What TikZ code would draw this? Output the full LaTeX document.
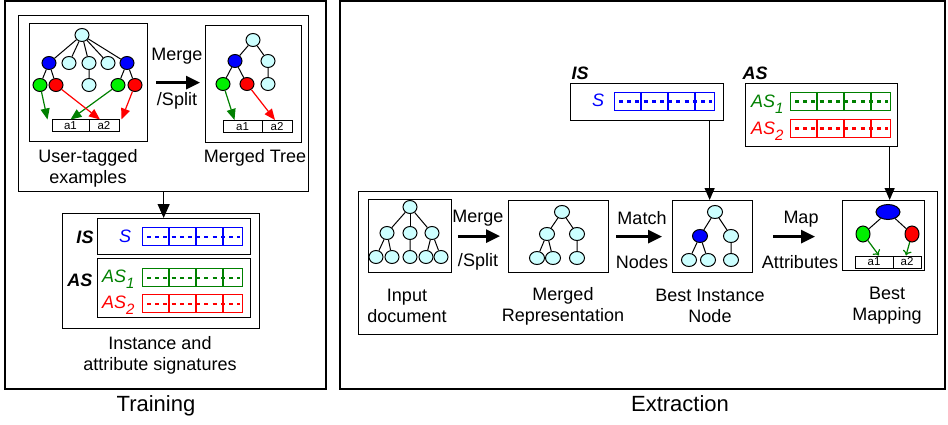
\documentclass[tikz,border=0pt]{standalone}
\usepackage{fontspec}
\setmainfont{Liberation Sans}
\usetikzlibrary{arrows,arrows.meta,shapes.geometric}

\definecolor{lcyan}{RGB}{204,255,255}
\definecolor{dgreen}{RGB}{0,128,0}
\definecolor{lgreen}{RGB}{0,240,0}

\newcommand{\lowidx}[1]{\raisebox{-6pt}{\fontsize{15}{15}\selectfont #1}}
% signature bar: name, x, y, colour
\newcommand{\sigbar}[4]{%
  \node[draw=#4, line width=1.2pt, minimum width=100pt, minimum height=18pt,
        inner sep=0pt, anchor=north west] (#1) at (#2,#3) {};
  \foreach \d in {27,54,81}
    \draw[#4, line width=1.2pt] ([xshift=\d pt]#1.north west) -- ([xshift=\d pt]#1.south west);
  \draw[#4, line width=2.2pt, dash pattern=on 4pt off 4.2pt] ([xshift=5pt]#1.west) -- ([xshift=-3pt]#1.east);
}

\begin{document}
\begin{tikzpicture}[x=1pt, y=-1pt, >={Triangle[length=14pt,width=13pt]},
  tn/.style={ellipse, draw, line width=1pt, fill=lcyan, minimum width=14pt, minimum height=13pt, inner sep=0pt},
  bn/.style={tn, fill=blue}, gn/.style={tn, fill=lgreen}, rn/.style={tn, fill=red},
  etn/.style={tn, minimum width=15pt},
  tbox/.style={draw, line width=1.3pt, inner sep=0pt, anchor=north west},
  cell/.style={draw, line width=1pt, minimum height=12pt, inner sep=0pt, font=\fontsize{11.5}{11.5}\selectfont},
  lbl/.style={align=center, font=\fontsize{18}{21}\selectfont},
  hd/.style={font=\fontsize{18}{21}\selectfont\bfseries\itshape},
  sig/.style={font=\fontsize{18}{21}\selectfont\itshape, anchor=base west, inner sep=0pt},
  tedge/.style={line width=1pt},
  tarr/.style={line width=1.2pt, -{Triangle[length=11pt,width=9pt]}},
  marr/.style={line width=1.2pt, dgreen, -{To[length=5pt,width=9pt]}},
  bigarr/.style={line width=2.8pt, ->},
  downarr/.style={line width=1.2pt, -{Triangle[length=14pt,width=12pt]}},
  smallarr/.style={line width=1.2pt, -{Triangle[length=12pt,width=10pt]}}]
\useasboundingbox (0,0) rectangle (948,425);

% panels
\draw[line width=1.3pt] (5,1) rectangle (326,389);
\draw[line width=1.3pt] (340,1) rectangle (945,389);
\node[anchor=base, font=\fontsize{22}{24}\selectfont] (trn) at (156,411) {Training};
\node[anchor=base, font=\fontsize{22}{24}\selectfont] (ext) at (680,411) {Extraction};

%%% training
\node[tbox, minimum width=290pt, minimum height=176pt] (trbox) at (18,15) {};
\node[tbox, minimum width=118pt, minimum height=118pt] (tb1) at (29,23) {};
\node[tbox, minimum width=96pt, minimum height=117pt] (tb2) at (205,25) {};

% user-tagged tree
\node[tn] (t1r) at (82,35) {};
\node[bn] (t1b1) at (49,63) {};
\node[tn] (t1c1) at (69,63) {};
\node[tn] (t1c2) at (89,63) {};
\node[tn] (t1c3) at (108,63) {};
\node[bn] (t1b2) at (127,63) {};
\node[gn] (t1g1) at (40,85) {};
\node[rn] (t1r1) at (56,85) {};
\node[tn] (t1c4) at (89,85) {};
\node[gn] (t1g2) at (118,85) {};
\node[rn] (t1r2) at (135,85) {};
\foreach \c in {t1b1,t1c1,t1c2,t1c3,t1b2}
  \draw[tedge] (t1r) -- (\c);
\draw[tedge] (t1b1) -- (t1g1) (t1b1) -- (t1r1) (t1c2) -- (t1c4) (t1b2) -- (t1g2) (t1b2) -- (t1r2);
\node[cell, minimum width=37pt] (t1a1) at (70.5,126) {a1};
\node[cell, minimum width=30pt] (t1a2) at (104,126) {a2};
\draw[tarr, dgreen] (t1g1) -- ([xshift=-4pt]t1a1.north west);
\draw[tarr, dgreen] (t1g2) -- (t1a1.north);
\draw[tarr, red] (t1r1) -- ([xshift=-4pt]t1a2.north);
\draw[tarr, red] (t1r2) -- ([xshift=2pt]t1a2.north east);

% merged tree
\node[tn] (t2r) at (253,40) {};
\node[bn] (t2b) at (235,61) {};
\node[tn] (t2c1) at (268,61) {};
\node[gn] (t2g) at (223,84) {};
\node[rn] (t2d) at (247,84) {};
\node[tn] (t2c2) at (268,84) {};
\draw[tedge] (t2r) -- (t2b) (t2r) -- (t2c1) (t2b) -- (t2g) (t2b) -- (t2d) (t2c1) -- (t2c2);
\node[cell, minimum width=39pt] (t2a1) at (242.5,126.5) {a1};
\node[cell, minimum width=30pt] (t2a2) at (277,126.5) {a2};
\draw[tarr, dgreen] (t2g) -- ([xshift=-8pt]t2a1.north);
\draw[tarr, red] (t2d) -- ([xshift=-2pt]t2a2.north);

\draw[bigarr, shorten <=8pt, shorten >=5pt] (tb1.east) -- (tb1.east -| tb2.west);
\node[lbl] (mg1) at (177,56) {Merge};
\node[lbl] (sp1) at (177,101) {/Split};
\node[lbl] (utag) at (88,168) {User-tagged\\examples};
\node[lbl] (mtree) at (255,158) {Merged Tree};

% signatures
\node[tbox, minimum width=197pt, minimum height=115pt] (sigbox) at (62,213) {};
\node[tbox, minimum width=153pt, minimum height=36pt] (isbox) at (97,218) {};
\node[tbox, minimum width=153pt, minimum height=59pt] (asbox) at (97,258) {};
\draw[downarr] (trbox.south) -- (trbox.south |- isbox.north);
\node[hd] (islbl) at (85,237) {IS};
\node[hd] (aslbl) at (80,280) {AS};
\node[sig, blue] (s1) at (119,242) {S};
\node[sig, dgreen] (as1) at (102,282) {AS\lowidx{1}};
\node[sig, red] (as2) at (102,308) {AS\lowidx{2}};
\sigbar{isbar}{142}{227}{blue}
\sigbar{asbarA}{142}{268}{dgreen}
\sigbar{asbarB}{142}{294}{red}
\node[lbl] (insig) at (160,355) {Instance and\\attribute signatures};

%%% extraction
\node[hd] (isR) at (580,73) {IS};
\node[tbox, minimum width=153pt, minimum height=37pt] (isRbox) at (570,83) {};
\node[sig, blue] (sR) at (592,107) {S};
\sigbar{isRbar}{614}{92}{blue}
\node[hd] (asR) at (755,73) {AS};
\node[tbox, minimum width=152pt, minimum height=63pt] (asRbox) at (745,83) {};
\node[sig, dgreen] (asR1) at (751,108) {AS\lowidx{1}};
\node[sig, red] (asR2) at (751,135) {AS\lowidx{2}};
\sigbar{asRbarA}{790}{92}{dgreen}
\sigbar{asRbarB}{790}{119}{red}

\node[tbox, minimum width=579pt, minimum height=143pt] (exbox) at (358,191) {};
\node[tbox, minimum width=83pt, minimum height=73pt] (inbox) at (368,199) {};
\node[tbox, minimum width=100pt, minimum height=72pt] (mrbox) at (508,200) {};
\node[tbox, minimum width=80pt, minimum height=72pt] (bibox) at (672,200) {};
\node[tbox, minimum width=82pt, minimum height=70pt] (bmbox) at (842,200) {};

% input document
\node[tn] (inr) at (410,207) {};
\node[tn] (inA) at (387,233) {};
\node[tn] (inB) at (410,233) {};
\node[tn] (inC) at (432,233) {};
\node[tn] (inD) at (376,257) {};
\node[tn] (inE) at (392,257) {};
\node[tn] (inF) at (410,257) {};
\node[tn] (inG) at (426,257) {};
\node[tn] (inH) at (441,257) {};
\foreach \c in {inA,inB,inC}
  \draw[tedge] (inr) -- (\c);
\draw[tedge] (inA) -- (inD) (inA) -- (inE) (inB) -- (inF) (inC) -- (inG) (inC) -- (inH);

% merged representation
\node[etn] (mrr) at (562,212) {};
\node[etn] (mrA) at (547,234) {};
\node[etn] (mrB) at (577,234) {};
\node[etn] (mrC) at (537,258) {};
\node[etn] (mrD) at (553,258) {};
\node[etn] (mrE) at (577,258) {};
\draw[tedge] (mrr) -- (mrA) (mrr) -- (mrB) (mrA) -- (mrC) (mrA) -- (mrD) (mrB) -- (mrE);

% best instance node
\node[etn] (bir) at (715,212) {};
\node[etn, fill=blue] (biA) at (700,236) {};
\node[etn] (biB) at (731,236) {};
\node[etn] (biC) at (689,260) {};
\node[etn] (biD) at (708,260) {};
\node[etn] (biE) at (731,260) {};
\draw[tedge] (bir) -- (biA) (bir) -- (biB) (biA) -- (biC) (biA) -- (biD) (biB) -- (biE);

% best mapping
\node[tn, fill=blue, minimum width=24pt, minimum height=15pt] (bmr) at (888,212) {};
\node[gn, minimum height=16pt] (bmg) at (863,234) {};
\node[rn, minimum height=16pt] (bmd) at (912,234) {};
\draw[tedge] (bmr) -- (bmg) (bmr) -- (bmd);
\node[cell, minimum width=38pt] (bma1) at (874,262) {a1};
\node[cell, minimum width=28pt] (bma2) at (907,262) {a2};
\draw[marr] (bmg) -- ([xshift=5pt]bma1.north);
\draw[marr] (bmd) -- ([xshift=-1pt]bma2.north);

\draw[smallarr] ([xshift=-3pt]bibox.north |- isRbox.south) -- ([xshift=-3pt]bibox.north);
\draw[smallarr] ([xshift=6pt]bmbox.north |- asRbox.south) -- ([xshift=6pt]bmbox.north);

\draw[bigarr, shorten <=6pt, shorten >=8pt] (inbox.east) -- (inbox.east -| mrbox.west);
\draw[bigarr, shorten <=7pt, shorten >=10pt] (mrbox.east) -- (mrbox.east -| bibox.west);
\draw[bigarr, shorten <=20pt, shorten >=27pt] (bibox.east) -- (bibox.east -| bmbox.west);
\node[lbl] (mg2) at (478,218) {Merge};
\node[lbl] (sp2) at (478,262) {/Split};
\node[lbl] (mt) at (642,218) {Match};
\node[lbl] (nd) at (642,262) {Nodes};
\node[lbl] (mp) at (801,219) {Map};
\node[lbl] (at) at (800,262) {Attributes};

\node[lbl] (indoc) at (407,306) {Input\\document};
\node[lbl] (mrep) at (563,306) {Merged\\Representation};
\node[lbl] (bin) at (710,306) {Best Instance\\Node};
\node[lbl] (bmap) at (887,306) {Best\\Mapping};
\end{tikzpicture}
\end{document}
